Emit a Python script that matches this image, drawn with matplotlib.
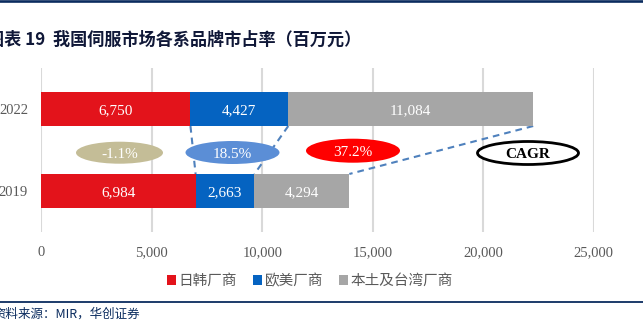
import matplotlib
matplotlib.use("Agg")
import matplotlib.pyplot as plt
from matplotlib.patches import Ellipse, Patch
from matplotlib.lines import Line2D
import numpy as np

plt.rcParams['font.family'] = ['Noto Sans CJK SC', 'DejaVu Sans']

# Data (百万元)
years = ["2019", "2022"]
series_names = ["日韩厂商", "欧美厂商", "本土及台湾厂商"]
japan_korea = [6984, 6750]
europe_us = [2663, 4427]
domestic_tw = [4294, 11084]
cagr_labels = ["-1.1%", "18.5%", "37.2%"]
x_ticks = [0, 5000, 10000, 15000, 20000, 25000]

colors = ["#E3131B", "#0563C1", "#A6A6A6"]
cagr_colors = ["#C4BD97", "#5B8ED6", "#FF0000"]
serif = "Liberation Serif"
navy = "#0B2C5F"

W, H = 643, 329
fig = plt.figure(figsize=(W / 100, H / 100), dpi=100)
ax = fig.add_axes([41.3 / W, 1 - 232 / H, (593.7 - 41.3) / W, (232 - 68) / H])

y = np.arange(len(years))
bar_h = 0.415
series = [japan_korea, europe_us, domestic_tw]
left = np.zeros(len(years))
edges = [left.copy()]
for vals, c, name in zip(series, colors, series_names):
    vals = np.array(vals, dtype=float)
    ax.barh(y, vals, left=left, height=bar_h, color=c, label=name, zorder=3)
    for yi, l, v in zip(y, left, vals):
        ax.text(l + v / 2, yi, f"{int(v):,}", ha="center", va="center_baseline",
                color="white", fontsize=11, family=serif, zorder=4)
    left = left + vals
    edges.append(left.copy())

# Dashed connectors between segment edges of the two years
for e in edges[1:]:
    ax.plot([e[1], e[0]], [1 - bar_h / 2, 0 + bar_h / 2], ls=(0, (3.2, 2.4)),
            color="#4F81BD", lw=1.5, zorder=2)

# CAGR ellipses
px = 552.4 / 25000  # pixels per data unit (x)
py = 82.0           # pixels per category unit (y)
ell_specs = [  # centre x (px), centre y (px), width, height
    (119.5, 152.7, 87, 22),
    (232.5, 152.5, 94, 23),
    (353.0, 150.7, 94, 24),
]
for (cx, cy, w, h), lab, col in zip(ell_specs, cagr_labels, cagr_colors):
    xd = (cx - 41.3) / px
    yd = (232 - cy) / py - 0.5
    ax.add_patch(Ellipse((xd, yd), w / px, h / py, facecolor=col,
                         edgecolor="none", zorder=5))
    ax.text(xd, yd, lab, ha="center", va="center_baseline", color="white",
            fontsize=11, family=serif, zorder=6)

cx, cy, w, h = 528.0, 153.0, 101, 23
xd = (cx - 41.3) / px
yd = (232 - cy) / py - 0.5
ax.add_patch(Ellipse((xd, yd), w / px, h / py, facecolor="white",
                     edgecolor="black", lw=2.0, zorder=5))
ax.text(xd, yd, "CAGR", ha="center", va="center_baseline", color="black",
        fontsize=11, family=serif, fontweight="bold", zorder=6)

ax.set_xlim(0, 25000)
ax.set_ylim(-0.5, 1.5)
ax.set_xticks(x_ticks)
ax.set_xticklabels([f"{t:,}" for t in x_ticks], family=serif, fontsize=10.5,
                   color="#595959")
ax.set_yticks(y)
ax.set_yticklabels(years, family=serif, fontsize=10.5, color="#595959")
ax.tick_params(axis="x", length=0, pad=10)
ax.tick_params(axis="y", length=0, pad=9.5)
ax.grid(axis="x", color="#D9D9D9", lw=1.5, zorder=0)
for s in ax.spines.values():
    s.set_visible(False)

handles = [Patch(facecolor=c, edgecolor="none") for c in colors]
fig.legend(handles, series_names, loc="center", bbox_to_anchor=(310 / W, 1 - 281 / H),
           ncol=3, frameon=False, fontsize=10.5, handlelength=0.6, handleheight=0.6,
           handletextpad=0.2, columnspacing=1.1, labelcolor="#595959")

# Header and footer
fig.add_artist(Line2D([0, 1], [1 - 1.2 / H, 1 - 1.2 / H], color=navy, lw=1.9))
fig.text(-13 / W, 1 - 40 / H, "图表 19  我国伺服市场各系品牌市占率（百万元）",
         fontsize=12.3, fontweight="bold", color="#101838", ha="left", va="center")
fig.add_artist(Line2D([0, 1], [1 - 302 / H, 1 - 302 / H], color=navy, lw=1.3))
fig.text(-7 / W, 1 - 314 / H, "资料来源：MIR，华创证券", fontsize=9,
         style="italic", color=navy, ha="left", va="center")

fig.savefig("out.png", dpi=100)
